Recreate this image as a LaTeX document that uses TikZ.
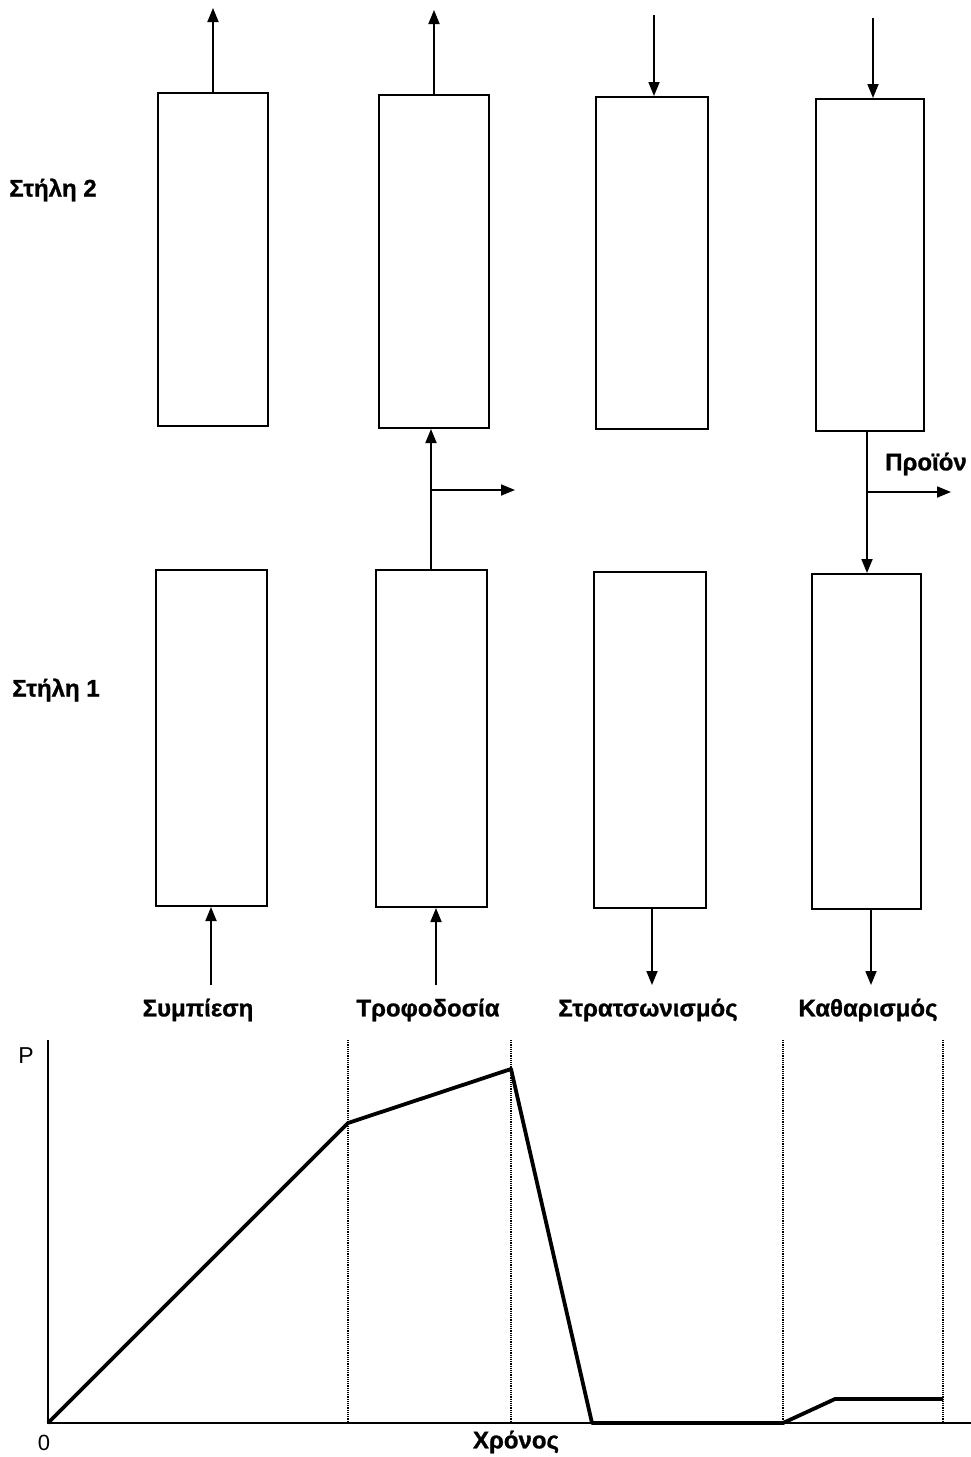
\documentclass[tikz,border=0pt]{standalone}
\usepackage{fontspec}
\setmainfont{Liberation Sans}
\newfontfamily\lblfont{Liberation Sans}[FakeBold=1.0]
\usetikzlibrary{arrows.meta}
\begin{document}
\begin{tikzpicture}[x=1pt,y=-1pt,
  col/.style={draw,line width=2pt,minimum width=110pt,minimum height=333pt,inner sep=0pt,anchor=north west},
  flow/.style={line width=1.8pt,-{Triangle[length=14pt,width=11pt]}},
  lbl/.style={font=\lblfont\fontsize{24}{26}\selectfont\bfseries,inner sep=1pt},
  grid/.style={densely dotted,line width=1.2pt},
  curve/.style={line width=3.8pt,line join=round}]
\useasboundingbox (0,0) rectangle (971,1457);
% top column boxes
\node[col] (A2) at (157,92) {};
\node[col] (B2) at (378,94) {};
\node[col,minimum width=112pt,minimum height=332pt] (C2) at (595,96) {};
\node[col,minimum width=108pt,minimum height=332pt] (D2) at (815,98) {};
% bottom column boxes
\node[col,minimum width=111pt,minimum height=336pt] (A1) at (155,569) {};
\node[col,minimum width=111pt,minimum height=337pt] (B1) at (375,569) {};
\node[col,minimum width=112pt,minimum height=336pt] (C1) at (593,571) {};
\node[col,minimum width=109pt,minimum height=335pt] (D1) at (811,573) {};
% labels
\node[lbl] (s2) at (53,190) {Στήλη 2};
\node[lbl] (s1) at (56,690) {Στήλη 1};
\node[lbl] (t1) at (198,1010) {Συμπίεση};
\node[lbl] (t2) at (428,1010) {Τροφοδοσία};
\node[lbl] (t3) at (648,1010) {Στρατσωνισμός};
\node[lbl] (t4) at (868,1010) {Καθαρισμός};
\node[lbl] (prod) at (926,464) {Προϊόν};
% coordinates for free arrow ends
\coordinate (a2t) at (213,8);
\coordinate (b2t) at (434,10);
\coordinate (c2t) at (654,15);
\coordinate (d2t) at (873,18);
\coordinate (a1b) at (211,985);
\coordinate (b1b) at (436,985);
\coordinate (c1b) at (652,985);
\coordinate (d1b) at (871,985);
\coordinate (bj) at (431,490);
\coordinate (bo) at (515,490);
\coordinate (dj) at (867,492);
\coordinate (do) at (951,492);
% arrows
\draw[flow] (A2.north -| a2t) -- (a2t);
\draw[flow] (B2.north -| b2t) -- (b2t);
\draw[flow] (c2t) -- (C2.north -| c2t);
\draw[flow] (d2t) -- (D2.north -| d2t);
\draw[flow] (a1b) -- (A1.south -| a1b);
\draw[flow] (b1b) -- (B1.south -| b1b);
\draw[flow] (C1.south -| c1b) -- (c1b);
\draw[flow] (D1.south -| d1b) -- (d1b);
\draw[flow] (B1.north -| bj) -- (B2.south -| bj);
\draw[flow] (bj) -- (bo);
\draw[flow] (D2.south -| dj) -- (D1.north -| dj);
\draw[flow] (dj) -- (do);
% graph
\coordinate (o) at (48,1423);
\coordinate (ytop) at (48,1040);
\coordinate (xend) at (971,1423);
\draw[line width=1.5pt] (ytop) -- (o) -- (xend);
\foreach \x/\n in {348/g1,511/g2,783/g3,943/g4} {
  \coordinate (\n t) at (\x,1040);
  \coordinate (\n b) at (\x,1423);
  \draw[grid] (\n t) -- (\n b);
}
\coordinate (p1) at (348,1123);
\coordinate (p2) at (511,1069);
\coordinate (p3) at (592,1423);
\coordinate (p4) at (783,1423);
\coordinate (p5) at (835,1399);
\coordinate (p6) at (943,1399);
\draw[curve] (o) -- (p1) -- (p2) -- (p3) -- (p4) -- (p5) -- (p6);
\node[font=\fontsize{23}{25}\selectfont,inner sep=1pt] (P) at (26,1056) {P};
\node[font=\fontsize{22}{24}\selectfont,inner sep=1pt] (zero) at (44,1443) {0};
\node[lbl] (chronos) at (516,1442) {Χρόνος};
\end{tikzpicture}
\end{document}
